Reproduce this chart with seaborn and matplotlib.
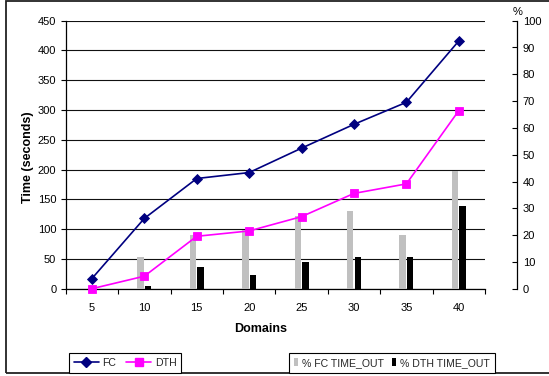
import numpy as np
import pandas as pd
import matplotlib
matplotlib.use("Agg")
import matplotlib.pyplot as plt
from matplotlib.lines import Line2D
from matplotlib.patches import Patch, Rectangle
import seaborn as sns

# ---- data -------------------------------------------------------------
domains = [5, 10, 15, 20, 25, 30, 35, 40]
fc_time = [17, 118, 185, 195, 236, 276, 313, 416]          # seconds
dth_time = [0, 21, 88, 97, 121, 160, 176, 299]             # seconds
fc_timeout_pct = [0, 12, 20, 22, 27, 29, 20, 44]           # %
dth_timeout_pct = [0, 1, 8, 5, 10, 12, 12, 31]             # %

time_ticks = list(range(0, 451, 50))
pct_ticks = list(range(0, 101, 10))

line_labels = ["FC", "DTH"]
bar_labels = ["% FC TIME_OUT", "% DTH TIME_OUT"]

# ---- style ------------------------------------------------------------
NAVY = "#000080"
MAGENTA = "#FF00FF"
LIGHT_GREY = "#C0C0C0"
BLACK = "#000000"

sns.set_theme(style="white")
plt.rcParams["font.family"] = ["Liberation Sans", "DejaVu Sans"]

W, H = 549, 376
fig = plt.figure(figsize=(W / 100, H / 100), dpi=100)
fig.patch.set_facecolor("white")

ax_l, ax_r, ax_t, ax_b = 65.7, 485.0, 20.7, 288.7
ax = fig.add_axes([ax_l / W, 1 - ax_b / H, (ax_r - ax_l) / W, (ax_b - ax_t) / H])
ax_pct = ax.twinx()      # timeout percentages (bars)
ax_lines = ax.twinx()    # run times (lines), drawn above the bars

ax.set_zorder(1)
ax_pct.set_zorder(2)
ax_lines.set_zorder(3)
for a in (ax_pct, ax_lines):
    a.patch.set_visible(False)

# ---- bars: percentage of time-outs -------------------------------------
bars = pd.DataFrame({
    "Domains": domains * 2,
    "pct": fc_timeout_pct + dth_timeout_pct,
    "series": [bar_labels[0]] * len(domains) + [bar_labels[1]] * len(domains),
})
sns.barplot(
    data=bars, x="Domains", y="pct", hue="series", hue_order=bar_labels,
    palette={bar_labels[0]: LIGHT_GREY, bar_labels[1]: BLACK},
    width=0.29, gap=0.145, dodge=True, saturation=1, linewidth=0,
    errorbar=None, legend=False, ax=ax_pct,
)

# ---- lines: run times --------------------------------------------------
pos = np.arange(len(domains))
sns.lineplot(x=pos, y=fc_time, ax=ax_lines, color=NAVY, linewidth=1.2,
             marker="D", markersize=4.8, markeredgecolor=NAVY,
             markeredgewidth=0.6, legend=False, clip_on=False)
sns.lineplot(x=pos, y=dth_time, ax=ax_lines, color=MAGENTA, linewidth=1.2,
             marker="s", markersize=6.3, markeredgecolor=MAGENTA,
             markeredgewidth=0.6, legend=False, clip_on=False)

# ---- primary axis (seconds) --------------------------------------------
ax.set_ylim(0, 450)
ax_lines.set_ylim(0, 450)
ax.set_xlim(-0.5, len(domains) - 0.5)
ax.set_yticks(time_ticks)
ax.set_yticklabels([str(t) for t in time_ticks])
ax.yaxis.grid(True, color="#111111", linewidth=0.8)
ax.xaxis.grid(False)
ax.set_xticks(pos)
ax.set_xticklabels([str(d) for d in domains])
ax.set_xticks(np.arange(len(domains) + 1) - 0.5, minor=True)
ax.tick_params(axis="x", which="major", length=0, pad=10, labelsize=8,
               colors="black")
ax.tick_params(axis="x", which="minor", length=3.6, width=0.8,
               direction="out", color="black", bottom=True)
ax.tick_params(axis="y", which="major", length=3.6, width=0.8,
               direction="out", left=True, pad=3.2, labelsize=8,
               colors="black")
for s in ("top", "right"):
    ax.spines[s].set_visible(False)
for s in ("left", "bottom"):
    ax.spines[s].set_color("black")
    ax.spines[s].set_linewidth(0.9)
ax.set_xlabel("")
ax.set_ylabel("")

# ---- secondary axis (percent) ------------------------------------------
ax_pct.set_ylim(0, 100)
ax_pct.set_yticks(pct_ticks)
ax_pct.set_yticklabels([str(t) for t in pct_ticks])
ax_pct.set_ylabel("")
for s in ("top", "left", "bottom"):
    ax_pct.spines[s].set_visible(False)
ax_pct.spines["right"].set_position(("axes", 1 + 32.3 / (ax_r - ax_l)))
ax_pct.spines["right"].set_color("black")
ax_pct.spines["right"].set_linewidth(0.9)
ax_pct.tick_params(axis="y", which="major", right=True, left=False,
                   direction="in", length=3.6, width=0.8, pad=4,
                   labelsize=8, colors="black")

ax_lines.axis("off")

# ---- titles --------------------------------------------------------------
fig.text(28 / W, 1 - 157 / H, "Time (seconds)", rotation=90, ha="center",
         va="center", fontsize=9, fontweight="bold", color="black")
fig.text(261 / W, 1 - 329 / H, "Domains", ha="center", va="center",
         fontsize=9, fontweight="bold", color="black")
fig.text(517.5 / W, 1 - 12 / H, "%", ha="center", va="center", fontsize=8,
         color="black")

# ---- legends -------------------------------------------------------------
line_handles = [
    Line2D([], [], color=NAVY, lw=1.2, marker="D", ms=4.8, mec=NAVY),
    Line2D([], [], color=MAGENTA, lw=1.2, marker="s", ms=6.3, mec=MAGENTA),
]
leg1 = fig.legend(line_handles, line_labels, loc="lower left",
                  bbox_to_anchor=(69 / W, 3.5 / H), ncol=2, fontsize=7.6,
                  frameon=True, fancybox=False, framealpha=1,
                  edgecolor="black", handlelength=2.4, handletextpad=0.3,
                  columnspacing=0.95, borderpad=0.45, borderaxespad=0,
                  numpoints=1)
leg1.get_frame().set_linewidth(0.8)

bar_handles = [Patch(facecolor=LIGHT_GREY, edgecolor="none"),
               Patch(facecolor=BLACK, edgecolor="none")]
leg2 = fig.legend(bar_handles, bar_labels, loc="lower left",
                  bbox_to_anchor=(289 / W, 3.5 / H), ncol=2, fontsize=7.6,
                  frameon=True, fancybox=False, framealpha=1,
                  edgecolor="black", handlelength=0.43, handleheight=0.8,
                  handletextpad=0.38, columnspacing=0.7, borderpad=0.45,
                  borderaxespad=0)
leg2.get_frame().set_linewidth(0.8)

# ---- chart frame -----------------------------------------------------------
fig.add_artist(Rectangle((6 / W, 1 - 372.5 / H), 1.0, (372.5 - 1) / H,
                         transform=fig.transFigure, fill=False,
                         edgecolor="#222222", linewidth=1.3, clip_on=False,
                         zorder=0))

fig.savefig("out.png", dpi=100, facecolor="white")
